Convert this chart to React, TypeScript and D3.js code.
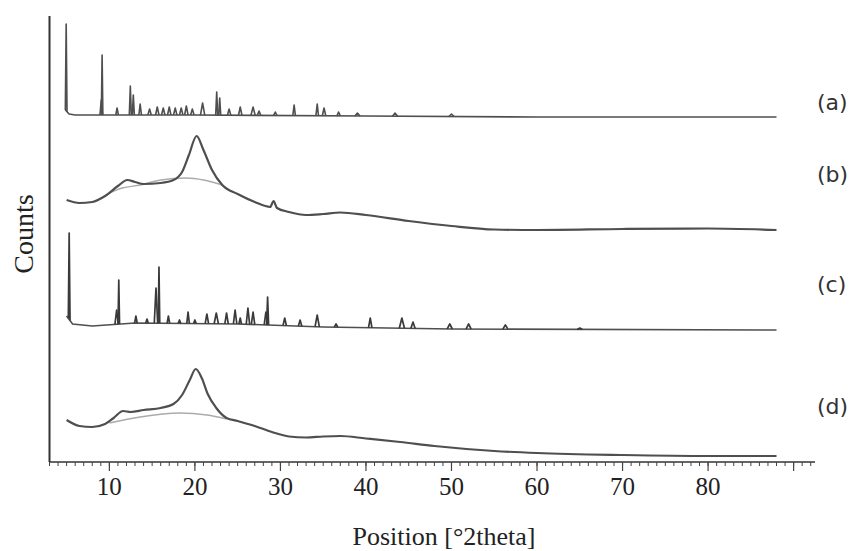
import React from "react";
import * as d3 from "d3";

// ---- data (2theta in degrees, intensity in arbitrary counts) ----
const majorTicks = [10, 20, 30, 40, 50, 60, 70, 80, 90];
const tickLabels = ["10", "20", "30", "40", "50", "60", "70", "80", ""];
const minorTicks = d3.range(3, 93, 1);

const baselineA: [number, number][] = [[4.85, 352], [5.3, 348], [6, 347], [20, 347], [40, 346], [60, 345], [88, 345]];
// [position, top, half width]
const peaksA: [number, number, number][] = [
  [4.95, 438, 0.1], [9.05, 362, 0.15], [9.15, 407, 0.09], [10.9, 354, 0.15], [12.45, 376, 0.12],
  [12.8, 367, 0.12], [13.6, 358, 0.15], [14.7, 353, 0.2], [15.6, 355, 0.2], [16.3, 354, 0.2],
  [17.0, 355, 0.2], [17.7, 354, 0.2], [18.4, 354, 0.2], [19.0, 356, 0.2], [19.7, 353, 0.2],
  [20.9, 359, 0.25], [22.55, 370, 0.12], [22.9, 364, 0.12], [24.0, 353, 0.2], [25.3, 355, 0.2],
  [26.8, 355, 0.25], [27.5, 351, 0.2], [29.4, 350, 0.2], [31.6, 357, 0.15], [34.3, 358, 0.15],
  [35.1, 354, 0.2], [36.8, 350, 0.2], [39.0, 349, 0.3], [43.4, 349, 0.3], [50.0, 348, 0.3],
];

const baselineC: [number, number][] = [[5.0, 146], [5.7, 138], [8, 136], [13, 139], [25, 138], [35, 135], [50, 133], [88, 132]];
const peaksC: [number, number, number][] = [
  [5.3, 229, 0.1], [10.85, 152, 0.2], [11.1, 182, 0.09], [13.1, 146, 0.15], [14.4, 143, 0.15],
  [15.45, 174, 0.2], [15.8, 195, 0.09], [16.9, 146, 0.15], [18.2, 142, 0.15], [19.2, 150, 0.15],
  [20.0, 142, 0.15], [21.4, 148, 0.2], [22.5, 149, 0.25], [23.7, 149, 0.2], [24.7, 152, 0.2],
  [25.3, 144, 0.15], [26.2, 154, 0.2], [26.8, 150, 0.2], [28.3, 150, 0.2], [28.5, 165, 0.12],
  [30.5, 144, 0.2], [32.3, 142, 0.2], [34.3, 147, 0.25], [36.5, 138, 0.2], [40.5, 144, 0.2],
  [44.2, 144, 0.3], [45.5, 140, 0.25], [49.8, 138, 0.3], [52.0, 138, 0.3], [56.3, 137, 0.3],
  [65.0, 134, 0.3],
];

const traceB: [number, number][] = [
  [5.0, 262], [6.5, 259], [8, 260], [9.5, 266], [11, 276], [12.1, 282], [13, 280], [14, 278],
  [16, 279], [17.5, 282], [18.5, 290], [19.3, 307], [20.2, 326], [21, 312], [22, 292], [23.2, 277],
  [25, 268], [27, 260], [28.8, 255], [29.2, 261], [29.6, 254], [31, 250], [33, 247], [35, 248],
  [37, 249.5], [40, 247], [45, 241], [50, 236], [55, 232.5], [60, 232], [70, 233], [80, 233.5], [88, 232],
];
const haloB: [number, number][] = [[10, 269], [11.5, 274], [13.6, 277], [16, 282], [19, 284], [21, 282], [22, 280], [23.2, 277]];

const traceD: [number, number][] = [
  [5.0, 42], [6.5, 36], [8, 35], [9.5, 38], [10.5, 44], [11.6, 51], [12.5, 50], [14, 52], [16, 54],
  [17.5, 58], [18.5, 67], [19.4, 82], [20.1, 93], [20.8, 84], [21.5, 68], [22.5, 54], [23.7, 44],
  [25, 41], [27, 36], [29, 30], [31, 25.5], [33, 24.5], [35, 25.5], [37, 26], [40, 23.5], [44, 20],
  [48, 16], [55, 11], [60, 9], [70, 7], [80, 6], [88, 6],
];
const haloD: [number, number][] = [[10, 39], [13.6, 45], [18.2, 49], [21.4, 47], [23.7, 43]];

const sampleLabels = ["(a)", "(b)", "(c)", "(d)"];
const sampleLabelY = [110, 182, 292, 414];

export default function App() {
  const W = 856, H = 551;
  const x = d3.scaleLinear().domain([3, 92.5]).range([49.5, 815]);
  const y = d3.scaleLinear().domain([0, 446]).range([462, 16]);

  const lin = d3.line<[number, number]>().x(d => x(d[0])).y(d => y(d[1]));
  const smooth = d3.line<[number, number]>().x(d => x(d[0])).y(d => y(d[1])).curve(d3.curveMonotoneX);

  const peakPaths = (base: [number, number][], peaks: [number, number, number][]) => {
    const b = d3.scaleLinear().domain(base.map(p => p[0])).range(base.map(p => p[1])).clamp(true);
    return peaks.map(([p, top, w]) =>
      lin([[p - w, b(p - w)], [p, top], [p + w, b(p + w)]]) as string
    );
  };

  const traceColor = "#4f4f4f";
  const haloColor = "#ababab";
  const serif = "'Liberation Serif', 'Times New Roman', serif";

  return (
    <svg width={W} height={H} style={{ position: "absolute", left: 0, top: 0, background: "#fff" }}>
      {/* halos */}
      <path d={smooth(haloB) as string} fill="none" stroke={haloColor} strokeWidth={1.4} />
      <path d={smooth(haloD) as string} fill="none" stroke={haloColor} strokeWidth={1.4} />
      {/* trace a */}
      <path d={lin(baselineA) as string} fill="none" stroke={traceColor} strokeWidth={1.6} />
      {peakPaths(baselineA, peaksA).map((d, i) => (
        <path key={"a" + i} d={d} fill="none" stroke={traceColor} strokeWidth={1.6} strokeLinejoin="round" />
      ))}
      {/* trace b */}
      <path d={smooth(traceB) as string} fill="none" stroke={traceColor} strokeWidth={2.2} />
      {/* trace c */}
      <path d={lin(baselineC) as string} fill="none" stroke={traceColor} strokeWidth={1.6} />
      {peakPaths(baselineC, peaksC).map((d, i) => (
        <path key={"c" + i} d={d} fill="none" stroke="#3a3a3a" strokeWidth={1.7} strokeLinejoin="round" />
      ))}
      {/* trace d */}
      <path d={smooth(traceD) as string} fill="none" stroke={traceColor} strokeWidth={2.2} />

      {/* axes */}
      <line x1={x(3)} x2={x(3)} y1={y(446)} y2={y(0)} stroke="#333" strokeWidth={2} />
      <line x1={x(3)} x2={x(92.5)} y1={y(0)} y2={y(0)} stroke="#333" strokeWidth={1.6} />
      {minorTicks.map(t => (
        <line key={"m" + t} x1={x(t)} x2={x(t)} y1={y(0)} y2={y(0) + 4} stroke="#444" strokeWidth={1} />
      ))}
      {majorTicks.map((t, i) => (
        <g key={"t" + t}>
          <line x1={x(t)} x2={x(t)} y1={y(0)} y2={y(0) + 9} stroke="#444" strokeWidth={1.2} />
          <text x={x(t)} y={495} textAnchor="middle" fontFamily={serif} fontSize={25} fill="#222">
            {tickLabels[i]}
          </text>
        </g>
      ))}
      <text x={444} y={545} textAnchor="middle" fontFamily={serif} fontSize={26} fill="#222">
        Position [°2theta]
      </text>
      <text transform="translate(33,234) rotate(-90)" textAnchor="middle" fontFamily={serif} fontSize={28} fill="#222">
        Counts
      </text>
      {sampleLabels.map((s, i) => (
        <text key={s} x={817} y={sampleLabelY[i]} fontFamily="'DejaVu Sans', Verdana, sans-serif" fontSize={22} fill="#333">
          {s}
        </text>
      ))}
    </svg>
  );
}
